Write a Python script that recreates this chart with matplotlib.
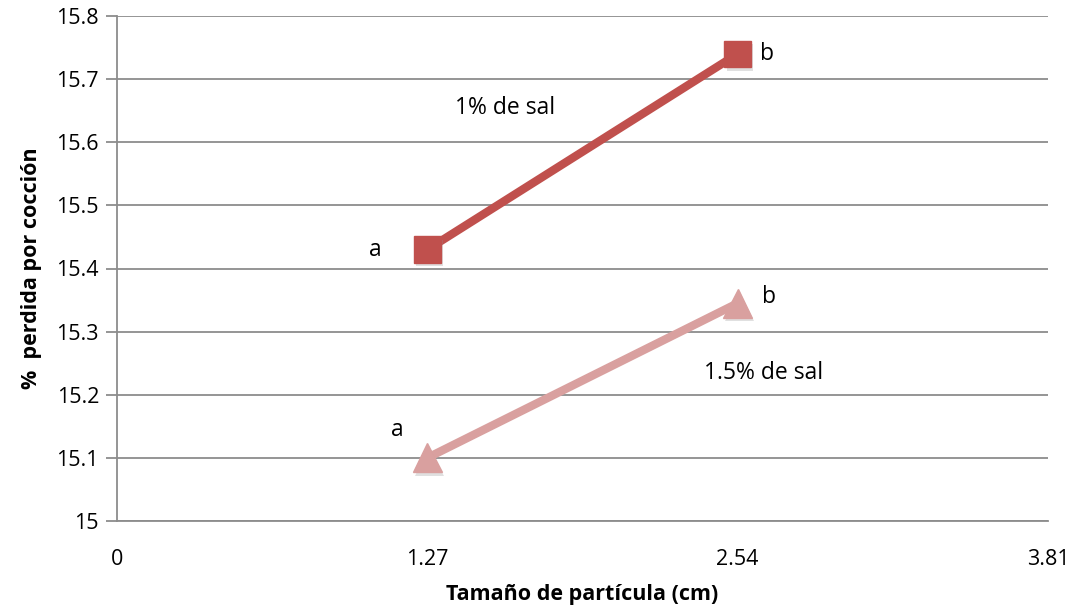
import matplotlib.pyplot as plt
import matplotlib.patheffects as pe

# tamaño de partícula (cm) y % pérdida por cocción
x_sizes = [1.27, 2.54]
sal_1 = [15.43, 15.74]
sal_15 = [15.10, 15.345]
xticks = [0, 1.27, 2.54, 3.81]
xtick_labels = ['0', '1.27', '2.54', '3.81']
yticks = [15.0, 15.1, 15.2, 15.3, 15.4, 15.5, 15.6, 15.7, 15.8]
ytick_labels = ['15', '15.1', '15.2', '15.3', '15.4', '15.5', '15.6', '15.7', '15.8']

# letras de significancia
letters_1 = [('a', 1.057, 15.43), ('b', 2.66, 15.74)]
letters_15 = [('a', 1.147, 15.144), ('b', 2.667, 15.355)]

plt.rcParams['font.family'] = ['Open Sans', 'DejaVu Sans']

fig = plt.figure(figsize=(10.77, 6.11), dpi=100)
ax = fig.add_axes([117/1077, 1-521/611, (1048-117)/1077, (521-16)/611])

grid_col = '#8c8c8c'
for yv in yticks:
    ax.axhline(yv, color=grid_col, lw=1.3, zorder=1)

shadow = [pe.SimplePatchShadow(offset=(1.5, -2.5), shadow_rgbFace='#999999', alpha=0.3),
          pe.Normal()]

ax.plot(x_sizes, sal_1, color='#c0504d', lw=6, zorder=3)
ax.plot(x_sizes, sal_1, ls='none', marker='s', ms=19, color='#c0504d',
        zorder=4, path_effects=shadow)
ax.plot(x_sizes, sal_15, color='#d9a09f', lw=6, zorder=3)
ax.plot(x_sizes, sal_15, ls='none', marker='^', ms=21, color='#d9a09f',
        zorder=4, path_effects=shadow)

for t, xv, yv in letters_1 + letters_15:
    ax.text(xv, yv, t, fontsize=16.5, ha='center', va='center')

ax.text(1.59, 15.654, '1% de sal', fontsize=16.5, ha='center', va='center')
ax.text(2.647, 15.235, '1.5% de sal', fontsize=16.5, ha='center', va='center')

ax.set_xlim(0, 3.81)
ax.set_ylim(15, 15.8)
ax.set_xticks(xticks)
ax.set_xticklabels(xtick_labels)
ax.set_yticks(yticks)
ax.set_yticklabels(ytick_labels)
ax.tick_params(axis='x', length=0, pad=20, labelsize=15.5)
ax.tick_params(axis='y', length=8, width=1.3, color=grid_col, pad=5, labelsize=15.5)

for s in ['top', 'right']:
    ax.spines[s].set_visible(False)
ax.spines['left'].set_color(grid_col)
ax.spines['left'].set_linewidth(1.3)
ax.spines['bottom'].set_color(grid_col)
ax.spines['bottom'].set_linewidth(1.3)

ax.set_xlabel('Tamaño de partícula (cm)', fontsize=15.5, fontweight='bold', labelpad=10)
ax.set_ylabel('%  perdida por cocción', fontsize=15.5, fontweight='bold', labelpad=10)

fig.savefig('out.png', dpi=100)
